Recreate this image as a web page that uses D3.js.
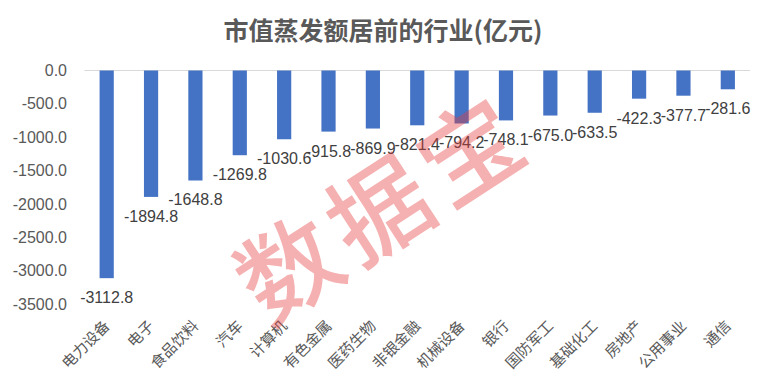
<!DOCTYPE html>
<html><head><meta charset="utf-8">
<script src="https://cdn.jsdelivr.net/npm/d3@7"></script>
<style>body{margin:0;background:#fff}svg{display:block}</style>
</head><body>
<svg id="c" width="765" height="382"></svg>
<script>
const categories = ["电力设备","电子","食品饮料","汽车","计算机","有色金属","医药生物","非银金融","机械设备","银行","国防军工","基础化工","房地产","公用事业","通信"];
const values = [-3112.8,-1894.8,-1648.8,-1269.8,-1030.6,-915.8,-869.9,-821.4,-794.2,-748.1,-675.0,-633.5,-422.3,-377.7,-281.6];
const yTicks = [0,-500,-1000,-1500,-2000,-2500,-3000,-3500];
const title = "市值蒸发额居前的行业(亿元)";
const watermark = "数据宝";

const svg = d3.select("#c");
const font = "'Liberation Sans','Noto Sans CJK SC',sans-serif";
const cjk = "'Noto Sans CJK SC','Liberation Sans',sans-serif";
const plotLeft = 84.5, plotRight = 750, plotTop = 70.5, plotBottom = 304;
const fmt = d => d3.format(".1f")(d).replace("\u2212", "-");

const x = d3.scaleBand().domain(categories).range([plotLeft, plotRight]).paddingInner(0.68).paddingOuter(0.34);
const y = d3.scaleLinear().domain([0, -3500]).range([plotTop, plotBottom]);

svg.append("text").attr("x", 383).attr("y", 40).attr("text-anchor", "middle")
  .attr("font-family", cjk).attr("font-weight", "bold").attr("font-size", 25)
  .attr("fill", "#595959").text(title);

// y axis
const yAxis = d3.axisLeft(y).tickValues(yTicks).tickFormat(fmt).tickSize(0).tickPadding(0);
const ga = svg.append("g").attr("transform", `translate(67,0)`).call(yAxis);
ga.select(".domain").remove();
ga.selectAll("text").attr("font-family", font).attr("font-size", 16).attr("fill", "#595959");

// zero line
svg.append("line").attr("x1", plotLeft).attr("x2", plotRight).attr("y1", y(0)).attr("y2", y(0))
  .attr("stroke", "#d9d9d9").attr("stroke-width", 1);

// bars
svg.append("g").selectAll("rect").data(values).join("rect")
  .attr("x", (d, i) => x(categories[i]))
  .attr("width", x.bandwidth())
  .attr("y", y(0))
  .attr("height", d => y(d) - y(0))
  .attr("fill", "#4472c4");

// data labels
svg.append("g").selectAll("text").data(values).join("text")
  .attr("x", (d, i) => x(categories[i]) + x.bandwidth() / 2)
  .attr("y", d => y(d) + 25)
  .attr("text-anchor", "middle")
  .attr("font-family", font).attr("font-size", 16).attr("fill", "#404040")
  .text(fmt);

// category labels
svg.append("g").selectAll("text").data(categories).join("text")
  .attr("transform", d => `translate(${x(d) + x.bandwidth() / 2 + 4},327) rotate(-45)`)
  .attr("text-anchor", "end")
  .attr("font-family", cjk).attr("font-size", 15).attr("fill", "#595959")
  .text(d => d);

// watermark
svg.append("text").attr("transform", "translate(376,205) rotate(-33)")
  .attr("x", 4)
  .attr("text-anchor", "middle").attr("dominant-baseline", "central")
  .attr("letter-spacing", 8)
  .attr("font-family", cjk).attr("font-size", 100).attr("font-weight", 500)
  .attr("fill", "rgb(230,60,60)").attr("fill-opacity", 0.4).text(watermark);
</script>
</body></html>
